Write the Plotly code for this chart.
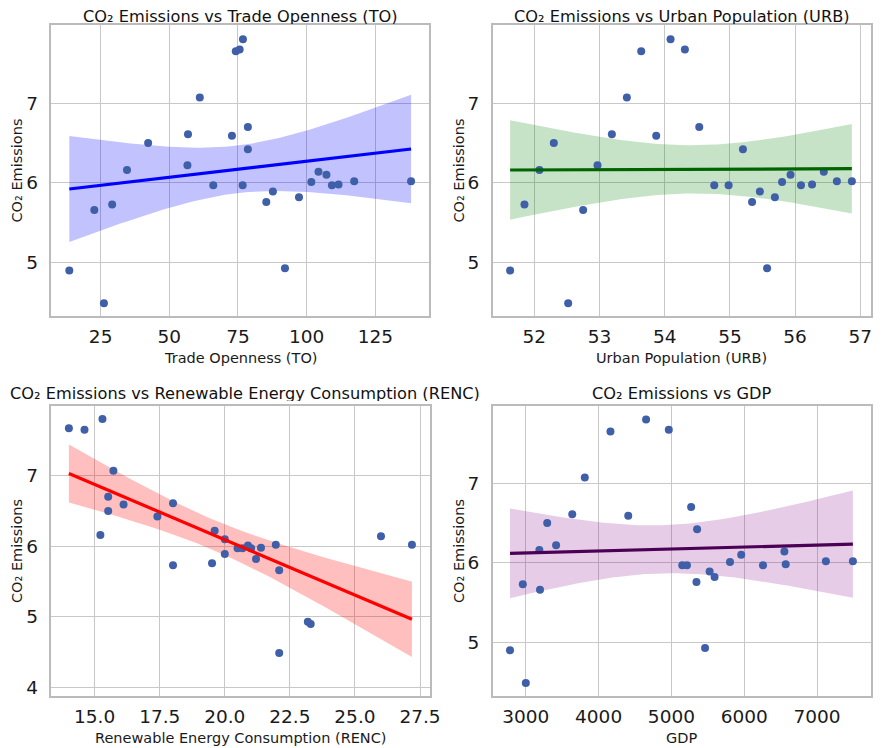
import numpy as np
import plotly.graph_objects as go

# ---- data (28 yearly observations) ----
co2 = [4.90, 5.73, 6.16, 6.50, 4.49, 5.66, 6.22, 6.61, 7.07, 7.65, 6.59, 7.80, 7.67, 6.70,
       5.97, 5.97, 6.42, 5.76, 5.89, 4.93, 5.82, 6.01, 6.10, 5.97, 5.98, 6.14, 6.02, 6.02]
trade_openness = [13.6, 29.2, 34.6, 42.3, 26.2, 22.7, 56.6, 56.8, 61.1, 74.2, 72.8, 76.8, 75.6, 78.6,
                  66.0, 76.7, 78.6, 85.3, 87.7, 92.1, 97.2, 101.7, 107.2, 109.2, 111.6, 104.3, 117.3, 138.0]
urban_pop = [51.63, 51.85, 52.08, 52.30, 52.52, 52.75, 52.97, 53.19, 53.42, 53.64, 53.87, 54.09, 54.31, 54.53,
             54.76, 54.98, 55.20, 55.34, 55.46, 55.57, 55.69, 55.80, 55.93, 56.09, 56.26, 56.44, 56.64, 56.87]
renewable = [23.30, 18.01, 15.22, 15.52, 22.09, 22.09, 19.61, 18.01, 15.72, 14.61, 16.11, 15.30, 14.01, 15.52,
             20.49, 20.68, 17.41, 19.51, 20.00, 23.19, 21.20, 20.89, 20.00, 21.01, 21.39, 26.00, 21.96, 27.19]
gdp = [2783, 2959, 3186, 3294, 3000, 3195, 3416, 3638, 3810, 4163, 4407, 4652, 4964, 5271,
       5149, 5213, 5353, 5344, 5525, 5462, 5593, 5805, 5959, 6258, 6570, 6552, 7122, 7493]

titles = ["CO₂ Emissions vs Trade Openness (TO)", "CO₂ Emissions vs Urban Population (URB)",
          "CO₂ Emissions vs Renewable Energy Consumption (RENC)", "CO₂ Emissions vs GDP"]
xlabels = ["Trade Openness (TO)", "Urban Population (URB)", "Renewable Energy Consumption (RENC)", "GDP"]
line_colors = ["#0000FF", "#006400", "#FF0000", "#4B0055"]
band_colors = ["rgba(0,0,255,0.24)", "rgba(0,128,0,0.22)", "rgba(255,0,0,0.25)", "rgba(128,0,128,0.2)"]

xs_all = [trade_openness, urban_pop, renewable, gdp]
x_ranges = [[7.1, 144.4], [51.365, 57.164], [13.34, 27.87], [2547, 7742]]
y_ranges = [[4.329, 7.979], [4.329, 7.979], [3.878, 7.986], [4.325, 7.97]]
x_ticks = [[25, 50, 75, 100, 125], [52, 53, 54, 55, 56, 57], [15, 17.5, 20, 22.5, 25, 27.5], [3000, 4000, 5000, 6000, 7000]]
x_ticktext = [None, None, ["15.0", "17.5", "20.0", "22.5", "25.0", "27.5"], None]
y_ticks = [[5, 6, 7], [5, 6, 7], [4, 5, 6, 7], [5, 6, 7]]

# page body adds an 8px margin, so the figure is 8px smaller and shifted
W, H = 876, 740
x_doms = [[44 / W, 426 / W], [491 / W, 874 / W], [44 / W, 427 / W], [491 / W, 874 / W]]
y_doms = [[1 - 309 / H, 1 - 17 / H], [1 - 309 / H, 1 - 17 / H], [1 - 690 / H, 1 - 399 / H], [1 - 690 / H, 1 - 399 / H]]
title_shift = [8, 8, 12, 12]
title_xshift = [0, 0, 4, 0]

FONT = "DejaVu Sans"
fig = go.Figure()
y = np.array(co2)
T95 = 2.056
for i in range(4):
    x = np.array(xs_all[i], dtype=float)
    n = len(x)
    b, a = np.polyfit(x, y, 1)
    xg = np.linspace(x.min(), x.max(), 100)
    yg = a + b * xg
    resid = y - (a + b * x)
    s = np.sqrt((resid ** 2).sum() / (n - 2))
    sxx = ((x - x.mean()) ** 2).sum()
    hw = T95 * s * np.sqrt(1 / n + (xg - x.mean()) ** 2 / sxx)
    ax = "" if i == 0 else str(i + 1)
    xa, ya = "x" + ax, "y" + ax
    fig.add_trace(go.Scatter(x=np.concatenate([xg, xg[::-1]]), y=np.concatenate([yg + hw, (yg - hw)[::-1]]),
                             fill="toself", fillcolor=band_colors[i], line=dict(width=0), mode="lines",
                             hoverinfo="skip", showlegend=False, xaxis=xa, yaxis=ya))
    fig.add_trace(go.Scatter(x=x, y=y, mode="markers", marker=dict(color="#3F5FA8", size=8),
                             showlegend=False, xaxis=xa, yaxis=ya))
    fig.add_trace(go.Scatter(x=xg, y=yg, mode="lines", line=dict(color=line_colors[i], width=3.2),
                             showlegend=False, xaxis=xa, yaxis=ya))
    axis_common = dict(showgrid=True, gridcolor="#C8C8C8", gridwidth=1.2, showline=True, linecolor="#BBBBBB",
                       linewidth=1.5, mirror=True, zeroline=False, ticks="", ticklabeloverflow="allow",
                       tickfont=dict(family=FONT, size=18.5, color="#1a1a1a"))
    fig.layout["xaxis" + ax] = dict(axis_common, domain=x_doms[i], range=x_ranges[i], tickvals=x_ticks[i],
                                    ticktext=x_ticktext[i], anchor=ya, ticklabelstandoff=3)
    fig.layout["yaxis" + ax] = dict(axis_common, domain=y_doms[i], range=y_ranges[i], tickvals=y_ticks[i], anchor=xa,
                                    ticklabelstandoff=8,
                                    title=dict(text="CO₂ Emissions", font=dict(family=FONT, size=14.5, color="#1a1a1a"), standoff=0))
    cx = (x_doms[i][0] + x_doms[i][1]) / 2
    fig.add_annotation(text=titles[i], x=cx, y=y_doms[i][1], xref="paper", yref="paper", xanchor="center",
                       yanchor="middle", yshift=title_shift[i], xshift=title_xshift[i], height=15, borderpad=0,
                       showarrow=False, font=dict(family=FONT, size=16.2, color="#111111"))
    fig.add_annotation(text=xlabels[i], x=cx, y=y_doms[i][0], xref="paper", yref="paper", xanchor="center",
                       yanchor="middle", yshift=-42, showarrow=False, font=dict(family=FONT, size=14.5, color="#1a1a1a"))

fig.update_layout(width=W, height=H, margin=dict(l=0, r=0, t=0, b=0), plot_bgcolor="white",
                  paper_bgcolor="white", font=dict(family=FONT))
fig.write_html("out.html")
